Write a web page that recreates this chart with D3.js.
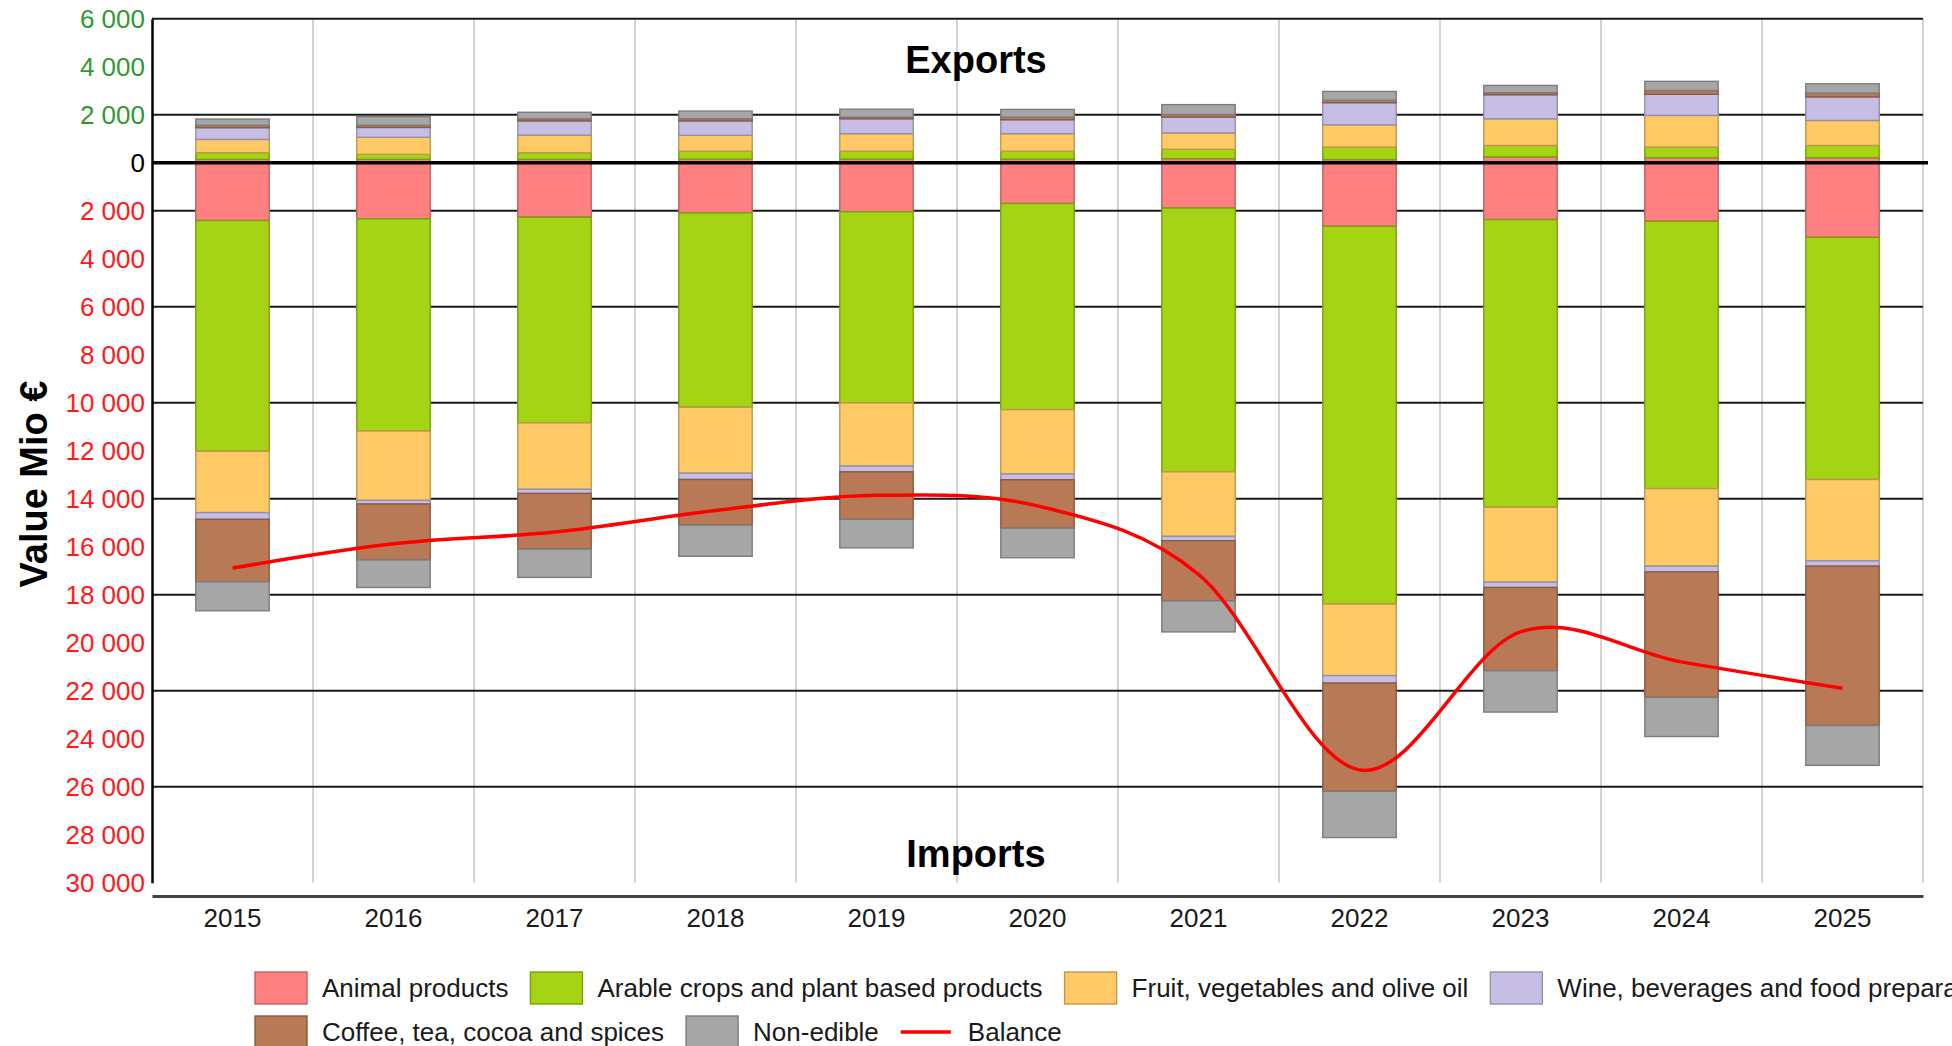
<!DOCTYPE html>
<html>
<head>
<meta charset="utf-8">
<script src="https://cdn.jsdelivr.net/npm/d3@7"></script>
<style>
  body { margin: 0; background: #fff; }
  svg { font-family: "Liberation Sans", Arial, sans-serif; display: block; }
</style>
</head>
<body>
<svg id="chart" width="1952" height="1046"></svg>
<script>
// values in Mio €
const years = ["2015", "2016", "2017", "2018", "2019", "2020", "2021", "2022", "2023", "2024", "2025"];
const categories = [
    "Animal products",
    "Arable crops and plant based products",
    "Fruit, vegetables and olive oil",
    "Wine, beverages and food preparations",
    "Coffee, tea, cocoa and spices",
    "Non-edible"
];
const colors = ["#ff8080", "#a5d414", "#ffca66", "#c6bee4", "#b87a56", "#a6a6a6"];

// exports (drawn upwards)
const exportsAnimal   = [140, 140, 140, 150, 150, 150, 170, 130, 240, 210, 210];
const exportsArable   = [280, 210, 280, 330, 330, 330, 390, 520, 480, 440, 510];
const exportsFruit    = [550, 710, 730, 660, 730, 730, 680, 930, 1110, 1320, 1040];
const exportsWine     = [490, 410, 590, 600, 620, 580, 660, 920, 1000, 880, 980];
const exportsCoffee   = [100, 90, 90, 90, 70, 110, 110, 100, 90, 160, 160];
const exportsNonEdible = [260, 360, 270, 320, 330, 320, 410, 370, 300, 380, 390];

// imports (drawn downwards)
const importsAnimal   = [2410, 2340, 2270, 2090, 2040, 1700, 1890, 2650, 2370, 2440, 3110];
const importsArable   = [9610, 8840, 8570, 8100, 7970, 8590, 10990, 15740, 11990, 11140, 10090];
const importsFruit    = [2560, 2890, 2770, 2750, 2630, 2680, 2690, 2980, 3120, 3230, 3390];
const importsWine     = [280, 150, 170, 260, 240, 240, 180, 310, 220, 240, 220];
const importsCoffee   = [2600, 2330, 2320, 1900, 1980, 2020, 2510, 4510, 3470, 5230, 6640];
const importsNonEdible = [1210, 1150, 1180, 1300, 1190, 1230, 1290, 1930, 1720, 1630, 1660];

// trade balance (deficit, drawn on the imports side)
const balance = [16890, 15880, 15390, 14490, 13860, 14300, 17150, 25300, 19550, 20800, 21900];

const yTicks = d3.range(6000, -30001, -2000);
const gridValues = [6000, 2000, -2000, -6000, -10000, -14000, -18000, -22000, -26000];

const exportSeries = [exportsAnimal, exportsArable, exportsFruit, exportsWine, exportsCoffee, exportsNonEdible];
const importSeries = [importsAnimal, importsArable, importsFruit, importsWine, importsCoffee, importsNonEdible];

const svg = d3.select("#chart");
const plotLeft = 152, plotRight = 1923, plotTop = 18.7, plotBottom = 882.7;

const x = d3.scaleBand()
    .domain(years)
    .range([plotLeft, plotRight])
    .paddingInner(0.544)
    .paddingOuter(0.272);

const y = d3.scaleLinear()
    .domain([6000, -30000])
    .range([plotTop, plotBottom]);

const fmt = d3.formatLocale({ thousands: " ", grouping: [3], decimal: "," }).format(",d");

// vertical grid lines between years
const step = x.step();
svg.append("g")
    .selectAll("line")
    .data(d3.range(1, years.length + 1))
    .join("line")
    .attr("x1", i => plotLeft + step * i)
    .attr("x2", i => plotLeft + step * i)
    .attr("y1", plotTop)
    .attr("y2", plotBottom)
    .attr("stroke", "#d4d4d4")
    .attr("stroke-width", 2);

// horizontal grid lines
svg.append("g")
    .selectAll("line")
    .data(gridValues)
    .join("line")
    .attr("x1", plotLeft)
    .attr("x2", plotRight)
    .attr("y1", d => y(d))
    .attr("y2", d => y(d))
    .attr("stroke", "#1a1a1a")
    .attr("stroke-width", 2);

// stacked bars
function stackRows(series, sign) {
    return years.map((yr, i) => {
        let acc = 0;
        return series.map((s, k) => {
            const y0 = acc;
            acc += s[i];
            return { year: yr, k: k, y0: sign * y0, y1: sign * acc };
        });
    }).flat();
}

const barData = stackRows(exportSeries, 1).concat(stackRows(importSeries, -1));

svg.append("g")
    .selectAll("rect")
    .data(barData)
    .join("rect")
    .attr("x", d => x(d.year))
    .attr("width", x.bandwidth())
    .attr("y", d => Math.min(y(d.y0), y(d.y1)))
    .attr("height", d => Math.abs(y(d.y0) - y(d.y1)))
    .attr("fill", d => colors[d.k])
    .attr("stroke", d => d3.color(colors[d.k]).darker(0.8))
    .attr("stroke-width", 1.4);

// zero line
svg.append("line")
    .attr("x1", plotLeft)
    .attr("x2", plotRight + 5)
    .attr("y1", y(0))
    .attr("y2", y(0))
    .attr("stroke", "#000")
    .attr("stroke-width", 3.5);

// balance curve
const line = d3.line()
    .x((d, i) => x(years[i]) + x.bandwidth() / 2)
    .y(d => y(-d))
    .curve(d3.curveCardinal.tension(0));

svg.append("path")
    .datum(balance)
    .attr("d", line)
    .attr("fill", "none")
    .attr("stroke", "#ff0000")
    .attr("stroke-width", 3.5);

// y axis
const yAxis = svg.append("g")
    .attr("transform", `translate(${plotLeft},0)`)
    .call(d3.axisLeft(y).tickValues(yTicks).tickSize(0).tickPadding(7)
        .tickFormat(d => fmt(Math.abs(d))));
yAxis.select(".domain").attr("stroke", "#000").attr("stroke-width", 2.5);
yAxis.selectAll("text")
    .attr("font-size", 26)
    .attr("font-family", "Liberation Sans, Arial, sans-serif")
    .attr("fill", d => d > 0 ? "#2f9a2f" : d < 0 ? "#ff1a1a" : "#000");

// x axis
const xAxis = svg.append("g")
    .attr("transform", "translate(0,896)")
    .call(d3.axisBottom(x).tickSize(0).tickPadding(13));
xAxis.select(".domain").attr("stroke", "#444").attr("stroke-width", 3);
xAxis.selectAll("text")
    .attr("font-size", 26)
    .attr("font-family", "Liberation Sans, Arial, sans-serif")
    .attr("fill", "#1a1a1a");

// titles
svg.append("text")
    .attr("x", 976).attr("y", 73)
    .attr("text-anchor", "middle")
    .attr("font-size", 38).attr("font-weight", "bold")
    .text("Exports");

svg.append("text")
    .attr("x", 976).attr("y", 867)
    .attr("text-anchor", "middle")
    .attr("font-size", 38).attr("font-weight", "bold")
    .text("Imports");

svg.append("text")
    .attr("transform", "translate(47,484) rotate(-90)")
    .attr("text-anchor", "middle")
    .attr("font-size", 38).attr("font-weight", "bold")
    .text("Value Mio €");

// legend
const legendItems = categories.map((c, k) => ({ name: c, color: colors[k], type: "box" }))
    .concat([{ name: "Balance", color: "#ff0000", type: "line" }]);
const rows = [[0, 1, 2, 3], [4, 5, 6]];
const rowY = [988, 1032];

const legend = svg.append("g").attr("font-size", 26).attr("fill", "#1a1a1a");
rows.forEach((row, r) => {
    let lx = 255;
    row.forEach(idx => {
        const item = legendItems[idx];
        const g = legend.append("g");
        if (item.type === "box") {
            g.append("rect")
                .attr("x", lx).attr("y", rowY[r] - 16)
                .attr("width", 52).attr("height", 32)
                .attr("fill", item.color)
                .attr("stroke", d3.color(item.color).darker(0.8))
                .attr("stroke-width", 1.4);
        } else {
            g.append("line")
                .attr("x1", lx).attr("x2", lx + 50)
                .attr("y1", rowY[r]).attr("y2", rowY[r])
                .attr("stroke", item.color)
                .attr("stroke-width", 3.5);
        }
        const t = g.append("text")
            .attr("x", lx + 67)
            .attr("y", rowY[r] + 9)
            .text(item.name);
        lx += 67 + t.node().getComputedTextLength() + 22;
    });
});
</script>
</body>
</html>
